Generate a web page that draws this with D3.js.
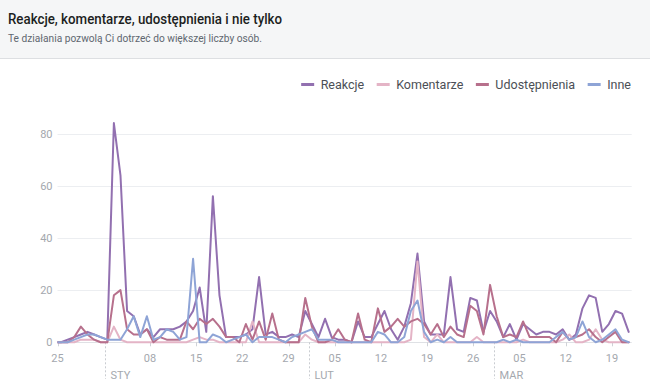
<!DOCTYPE html>
<html><head><meta charset="utf-8">
<script src="https://cdn.jsdelivr.net/npm/d3@7"></script>
<style>html,body{margin:0;padding:0;background:#fff;} svg{display:block;font-family:Roboto,"Noto Sans",sans-serif;}</style>
</head><body><svg id="c" width="650" height="383"></svg>
<script>
const titleText = "Reakcje, komentarze, udostępnienia i nie tylko";
const subtitleText = "Te działania pozwolą Ci dotrzeć do większej liczby osób.";
const seriesNames = ["Reakcje", "Komentarze", "Udostępnienia", "Inne"];
const seriesColors = ["#9270b0", "#e4b4c6", "#b7708c", "#8ea4d6"];
const firstDay = "2022-12-24";
const reakcje = [0,
  0,1,2,3,4,3,2,1,
  84,64,12,10,3,5,2,5,
  5,5,6,8,12,21,4,56,
  18,2,2,2,3,5,25,3,
  4,2,2,3,2,12,7,2,
  9,2,1,1,0,8,2,2,
  7,12,5,1,6,15,34,8,
  3,3,3,25,5,4,17,16,
  4,12,8,2,7,1,7,5,
  3,4,4,3,5,1,3,13,
  18,17,4,7,12,11,4];
const komentarze = [0,
  0,0,0,1,1,1,0,0,
  6,1,0,0,0,0,0,0,
  0,0,0,0,1,2,1,1,
  0,0,0,0,0,8,0,0,
  0,0,0,0,0,3,1,0,
  0,0,0,0,0,0,0,0,
  0,0,0,0,0,1,31,2,
  0,3,0,0,0,0,0,2,
  0,0,0,0,0,0,1,0,
  0,0,0,0,1,3,0,0,
  1,5,1,0,0,0,0];
const udostepnienia = [0,
  0,0,2,6,3,1,0,0,
  18,20,5,3,3,5,0,2,
  1,1,1,8,5,9,7,9,
  6,2,2,0,7,1,8,1,
  11,1,0,0,0,17,6,0,
  0,1,5,1,0,11,1,0,
  13,4,6,9,6,8,9,7,
  3,7,2,6,3,2,14,12,
  3,22,10,2,3,2,8,2,
  2,2,2,0,4,1,2,3,
  5,2,0,2,4,0,0];
const inne = [0,
  0,0,1,2,3,3,2,1,
  1,1,5,10,2,10,1,2,
  5,4,1,2,32,0,0,3,
  2,0,1,2,3,0,2,2,
  2,1,0,2,3,4,5,1,
  1,1,0,0,0,0,0,0,
  4,3,0,0,2,12,16,4,
  0,1,0,2,0,0,0,0,
  0,0,0,1,0,1,0,0,
  0,0,0,2,4,1,2,8,
  2,0,1,3,5,1,0];
const yTicks = [0, 20, 40, 60, 80];
const weekTicks = ["2022-12-25","2023-01-08","2023-01-15","2023-01-22","2023-01-29","2023-02-05","2023-02-12","2023-02-19","2023-02-26","2023-03-05","2023-03-12","2023-03-19"];
const monthStarts = ["2023-01-01","2023-02-01","2023-03-01"];
const monthLabels = ["STY","LUT","MAR"];
const domainStart = "2022-12-25", domainEnd = "2023-03-22";

const parse = d3.timeParse("%Y-%m-%d");
const start = parse(firstDay);
const days = d3.range(reakcje.length).map(i => d3.timeDay.offset(start, i));
const series = [reakcje, komentarze, udostepnienia, inne];

const svg = d3.select("#c");
const W = 650, H = 383;
const plotL = 57.5, plotR = 631.7, plotB = 342.3, plotT = 133.5;

const x = d3.scaleTime().domain([parse(domainStart), parse(domainEnd)]).range([plotL, plotR]);
const y = d3.scaleLinear().domain([0, 80]).range([plotB, plotT]);
const px = d => x(d3.timeHour.offset(d, 13));

// header
svg.append("rect").attr("x",0).attr("y",0).attr("width",W).attr("height",58).attr("fill","#f5f6f7");
svg.append("line").attr("x1",0).attr("x2",W).attr("y1",58.5).attr("y2",58.5).attr("stroke","#dddfe2");
svg.append("text").attr("x",8).attr("y",24).attr("font-size",15.5).attr("font-weight",500)
  .attr("fill","#1c1e21").attr("textLength",274).attr("lengthAdjust","spacingAndGlyphs").text(titleText);
svg.append("text").attr("x",8).attr("y",41.5).attr("font-size",11).attr("fill","#606770")
  .attr("textLength",254).attr("lengthAdjust","spacingAndGlyphs").text(subtitleText);

// grid + y labels
const g = svg.append("g");
yTicks.forEach(t => {
  g.append("line").attr("x1",plotL).attr("x2",plotR).attr("y1",Math.round(y(t))+0.5).attr("y2",Math.round(y(t))+0.5)
    .attr("stroke", t===0 ? "#dfe1e5" : "#eceef1");
  g.append("text").attr("x",52.5).attr("y",y(t)+4).attr("text-anchor","end").attr("font-size",11)
    .attr("fill","#a4a8ae").text(t);
});

// x ticks
weekTicks.forEach(s => {
  const d = parse(s);
  g.append("line").attr("x1",Math.round(x(d))+0.5).attr("x2",Math.round(x(d))+0.5).attr("y1",plotB).attr("y2",plotB+4)
    .attr("stroke","#cfd2d7");
  g.append("text").attr("x",x(d)).attr("y",362).attr("text-anchor","middle").attr("font-size",11)
    .attr("fill","#a4a8ae").text(d3.timeFormat("%d")(d));
});
monthStarts.forEach((s,i) => {
  const d = parse(s);
  const xx = Math.round(x(d)) + 1.5;
  g.append("line").attr("x1",xx).attr("x2",xx).attr("y1",plotB).attr("y2",379)
    .attr("stroke","#c9ccd1").attr("stroke-dasharray","2,2");
  g.append("text").attr("x",xx+5).attr("y",379).attr("font-size",11).attr("fill","#a4a8ae").text(monthLabels[i]);
});

// lines
svg.append("clipPath").attr("id","clip").append("rect").attr("x",plotL).attr("y",0).attr("width",W-plotL).attr("height",H);
const line = d3.line().x((d,i) => px(days[i])).y(d => y(d));
const lg = svg.append("g").attr("clip-path","url(#clip)");
series.forEach((s, i) => {
  lg.append("path").attr("d", line(s)).attr("fill","none").attr("stroke",seriesColors[i])
    .attr("stroke-width",2).attr("stroke-linejoin","round").attr("stroke-linecap","round");
});

// legend (right aligned)
const leg = svg.append("g");
const items = seriesNames.map((n,i) => {
  const t = leg.append("text").attr("y",88.5).attr("font-size",12.5).attr("fill","#4b4f56").text(n);
  return {t, w: t.node().getComputedTextLength(), i};
});
let cx = 631;
for (let k = items.length - 1; k >= 0; k--) {
  const it = items[k];
  cx -= it.w;
  it.t.attr("x", cx);
  cx -= 6.5;
  leg.append("line").attr("x1",cx-13).attr("x2",cx).attr("y1",84.5).attr("y2",84.5)
    .attr("stroke",seriesColors[it.i]).attr("stroke-width",3);
  cx -= 13 + 12.5;
}
</script></body></html>
